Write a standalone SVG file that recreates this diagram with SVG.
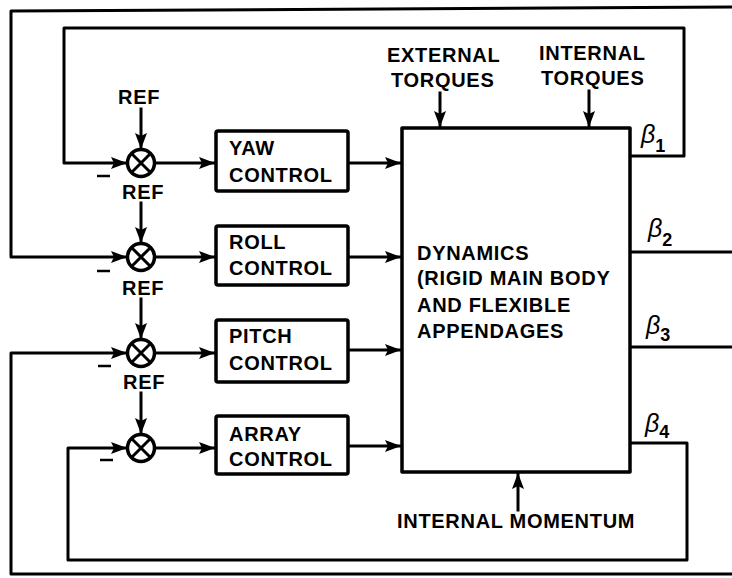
<svg xmlns="http://www.w3.org/2000/svg" width="732" height="578" viewBox="0 0 732 578">
<defs>
<style>
.ln{fill:none;stroke:#000;stroke-width:3;stroke-linejoin:round;stroke-linecap:square}
.bx{fill:#fff;stroke:#000;stroke-width:3.5;stroke-linejoin:round}
.sj{fill:#fff;stroke:#000;stroke-width:3.5}
.sx{stroke:#000;stroke-width:3}
.t{font-family:"Liberation Sans",Arial,sans-serif;font-weight:bold;font-size:20px;letter-spacing:0.7px;fill:#000}
.b{font-family:"Liberation Sans",Arial,sans-serif;font-style:italic;font-size:25px;fill:#000}
.s{font-family:"Liberation Sans",Arial,sans-serif;font-weight:bold;font-style:normal;font-size:18px}
.mn{stroke:#000;stroke-width:2.5}
</style>
<marker id="ah" markerUnits="userSpaceOnUse" markerWidth="17" markerHeight="12" refX="16" refY="6" orient="auto">
<path d="M0,0 L16,6 L0,12 L3,6 z" fill="#000"/>
</marker>
</defs>
<rect width="732" height="578" fill="#fff"/>

<g id="connectors">
<path class="ln" d="M630,156 H684 V28 H64 V163 H127" marker-end="url(#ah)"/>
<path class="ln" d="M630,252 H740"/>
<path class="ln" d="M740,7 L11,11 V257 H127" marker-end="url(#ah)"/>
<path class="ln" d="M630,347 H740"/>
<path class="ln" d="M740,574 H11 V353 H127" marker-end="url(#ah)"/>
<path class="ln" d="M630,443 H687 V560 H68 V448 H127" marker-end="url(#ah)"/>
<path class="ln" d="M141,109 V149" marker-end="url(#ah)"/>
<path class="ln" d="M141,203 V243" marker-end="url(#ah)"/>
<path class="ln" d="M141,299 V339" marker-end="url(#ah)"/>
<path class="ln" d="M141,393 V434" marker-end="url(#ah)"/>
<path class="ln" d="M155,163 H215" marker-end="url(#ah)"/>
<path class="ln" d="M155,257 H215" marker-end="url(#ah)"/>
<path class="ln" d="M155,353 H215" marker-end="url(#ah)"/>
<path class="ln" d="M155,448 H215" marker-end="url(#ah)"/>
<path class="ln" d="M348,163 H401" marker-end="url(#ah)"/>
<path class="ln" d="M348,257 H401" marker-end="url(#ah)"/>
<path class="ln" d="M348,350 H401" marker-end="url(#ah)"/>
<path class="ln" d="M348,446 H401" marker-end="url(#ah)"/>
<path class="ln" d="M440,93 V127" marker-end="url(#ah)"/>
<path class="ln" d="M589,91 V127" marker-end="url(#ah)"/>
<path class="ln" d="M518,510 V473" marker-end="url(#ah)"/>
</g>

<g id="sum-yaw">
<circle class="sj" cx="141" cy="163" r="13.5"/>
<path class="sx" d="M131.5,153.5 L150.5,172.5 M150.5,153.5 L131.5,172.5"/>
<text class="t" x="118" y="104">REF</text>
<line class="mn" x1="97" y1="176" x2="110" y2="176"/>
</g>
<g id="sum-roll">
<circle class="sj" cx="141" cy="257" r="13.5"/>
<path class="sx" d="M131.5,247.5 L150.5,266.5 M150.5,247.5 L131.5,266.5"/>
<text class="t" x="122" y="199">REF</text>
<line class="mn" x1="97" y1="271" x2="110" y2="271"/>
</g>
<g id="sum-pitch">
<circle class="sj" cx="141" cy="353" r="13.5"/>
<path class="sx" d="M131.5,343.5 L150.5,362.5 M150.5,343.5 L131.5,362.5"/>
<text class="t" x="122" y="295">REF</text>
<line class="mn" x1="98" y1="366" x2="111" y2="366"/>
</g>
<g id="sum-array">
<circle class="sj" cx="141" cy="448" r="13.5"/>
<path class="sx" d="M131.5,438.5 L150.5,457.5 M150.5,438.5 L131.5,457.5"/>
<text class="t" x="123" y="389">REF</text>
<line class="mn" x1="100" y1="460" x2="113" y2="460"/>
</g>

<g id="yaw-control">
<rect class="bx" x="216" y="131" width="132" height="60" rx="2"/>
<text class="t" x="229" y="155">YAW</text>
<text class="t" x="229" y="182">CONTROL</text>
</g>
<g id="roll-control">
<rect class="bx" x="216" y="226" width="132" height="59" rx="2"/>
<text class="t" x="229" y="249">ROLL</text>
<text class="t" x="229" y="275">CONTROL</text>
</g>
<g id="pitch-control">
<rect class="bx" x="216" y="320" width="132" height="62" rx="2"/>
<text class="t" x="229" y="343">PITCH</text>
<text class="t" x="229" y="370">CONTROL</text>
</g>
<g id="array-control">
<rect class="bx" x="216" y="416" width="132" height="58" rx="2"/>
<text class="t" x="229" y="441">ARRAY</text>
<text class="t" x="229" y="466">CONTROL</text>
</g>

<g id="dynamics">
<rect class="bx" x="402" y="128" width="228" height="344" stroke-width="4"/>
<text class="t" x="417" y="260">DYNAMICS</text>
<text class="t" x="417" y="285">(RIGID MAIN BODY</text>
<text class="t" x="417" y="312">AND FLEXIBLE</text>
<text class="t" x="417" y="338">APPENDAGES</text>
</g>

<g id="external-torques">
<text class="t" x="387" y="62">EXTERNAL</text>
<text class="t" x="391" y="87">TORQUES</text>
</g>
<g id="internal-torques">
<text class="t" x="539" y="60">INTERNAL</text>
<text class="t" x="541" y="85">TORQUES</text>
</g>
<g id="internal-momentum">
<text class="t" x="397" y="528">INTERNAL MOMENTUM</text>
</g>

<g id="beta-labels">
<text class="b" x="641" y="143">β<tspan class="s" dy="9">1</tspan></text>
<text class="b" x="648" y="237">β<tspan class="s" dy="9">2</tspan></text>
<text class="b" x="646" y="334">β<tspan class="s" dy="7">3</tspan></text>
<text class="b" x="645" y="432">β<tspan class="s" dy="6">4</tspan></text>
</g>
</svg>
